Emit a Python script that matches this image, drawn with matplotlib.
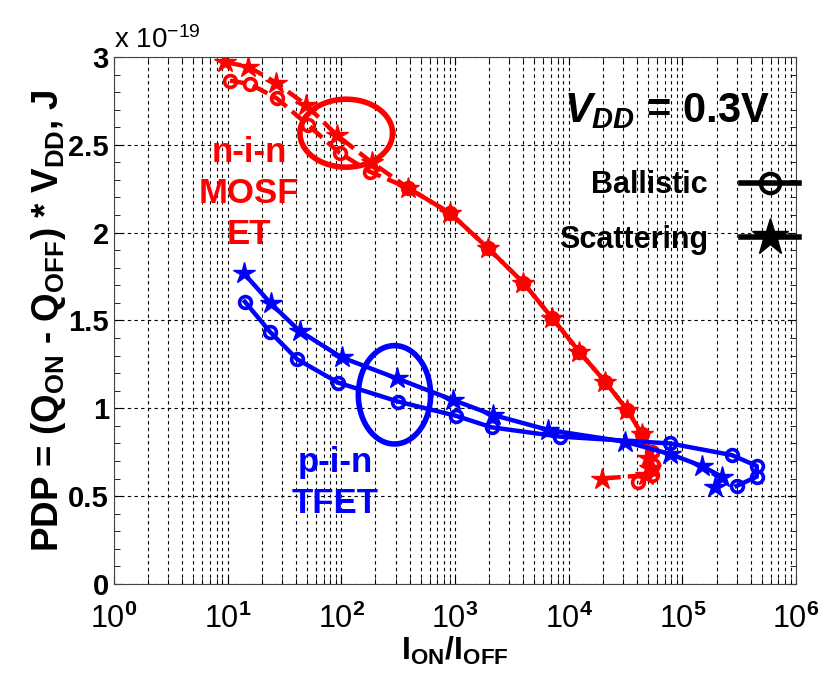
import numpy as np
import matplotlib
matplotlib.use('Agg')
import matplotlib.pyplot as plt
from matplotlib.lines import Line2D
from matplotlib.ticker import FuncFormatter, FixedLocator, LogLocator, MultipleLocator

plt.rcParams['font.family'] = ['Liberation Sans', 'DejaVu Sans']
plt.rcParams['mathtext.fontset'] = 'custom'
plt.rcParams['mathtext.rm'] = 'Liberation Sans:bold'
plt.rcParams['mathtext.it'] = 'Liberation Sans:bold:italic'
plt.rcParams['mathtext.bf'] = 'Liberation Sans:bold'

# n-i-n MOSFET, PDP in units of 1e-19 J
mos_ball_x = [10.5, 15.7, 27, 51, 97, 178, 388, 910, 1960, 3990, 7200, 12400, 20900, 32800, 43900, 53700, 55500, 54500, 41000]
mos_ball_y = [2.865, 2.846, 2.765, 2.613, 2.453, 2.347, 2.254, 2.11, 1.911, 1.715, 1.512, 1.322, 1.152, 0.99, 0.854, 0.753, 0.68, 0.62, 0.58]
mos_scat_x = [9.5, 15.2, 26.6, 49, 91, 185, 388, 910, 1960, 3990, 7200, 12400, 20900, 32800, 43900, 50000, 52000, 48000, 19500]
mos_scat_y = [2.97, 2.945, 2.854, 2.727, 2.556, 2.40, 2.254, 2.11, 1.911, 1.715, 1.512, 1.322, 1.152, 0.99, 0.854, 0.72, 0.66, 0.62, 0.60]

# p-i-n TFET
tfet_ball_x = [14.2, 23.6, 41, 94, 318, 1015, 2100, 8400, 77800, 272000, 451000, 451000, 300000]
tfet_ball_y = [1.607, 1.436, 1.279, 1.146, 1.038, 0.958, 0.892, 0.839, 0.80, 0.734, 0.672, 0.611, 0.558]
tfet_scat_x = [13.9, 23.9, 43, 100.7, 307, 966, 2170, 6620, 31300, 77800, 148000, 222000, 194000]
tfet_scat_y = [1.769, 1.598, 1.44, 1.29, 1.171, 1.047, 0.962, 0.877, 0.81, 0.74, 0.672, 0.611, 0.554]

x_ticks = [1e0, 1e1, 1e2, 1e3, 1e4, 1e5, 1e6]

# highlight ellipses: (log10 centre x, centre y, log-width, height)
red_ring = (2.044, 2.566, 0.815, 0.387)
blue_ring = (2.468, 1.077, 0.636, 0.56)

fig = plt.figure(figsize=(8.19, 6.81), dpi=100)
ax = fig.add_axes([0.139, 0.1424, 0.833, 0.774])

ax.plot(mos_ball_x, mos_ball_y, '--', color='red', lw=3.2, marker='o', ms=8.5, mfc='none', mew=2.6)
ax.plot(mos_scat_x, mos_scat_y, '--', color='red', lw=3.2, marker='*', ms=16)
ax.plot(tfet_ball_x, tfet_ball_y, '-', color='blue', lw=3.2, marker='o', ms=8.5, mfc='none', mew=2.6)
ax.plot(tfet_scat_x, tfet_scat_y, '-', color='blue', lw=3.2, marker='*', ms=16)

t = np.linspace(0, 2 * np.pi, 200)
for (cx, cy, w, h), c in [(red_ring, 'red'), (blue_ring, 'blue')]:
    ax.plot(10 ** (cx + w / 2 * np.cos(t)), cy + h / 2 * np.sin(t), color=c, lw=4)

ax.set_xscale('log')
ax.set_xlim(1, 1e6)
ax.set_ylim(0, 3)
ax.xaxis.set_major_locator(FixedLocator(x_ticks))
ax.xaxis.set_minor_locator(LogLocator(base=10, subs=np.arange(2, 10), numticks=20))
ax.yaxis.set_major_locator(MultipleLocator(0.5))
ax.yaxis.set_minor_locator(MultipleLocator(0.1))
ax.grid(True, which='major', ls='--', color='black', lw=0.8, dashes=(3, 3))
ax.grid(True, which='minor', axis='x', ls='--', color='black', lw=0.8, dashes=(3, 3))
ax.tick_params(which='both', direction='in', right=True, top=True)
ax.tick_params(which='major', length=6, labelsize=21)
ax.tick_params(which='minor', length=4)
for s in ax.spines.values():
    s.set_color('#444444')

ax.xaxis.set_major_formatter(FuncFormatter(lambda v, p: r'10$^{%d}$' % round(np.log10(v))))
ax.yaxis.set_major_formatter(FuncFormatter(lambda v, p: ('%g' % v)))
for lab in ax.get_yticklabels():
    lab.set_fontweight('bold')
for lab in ax.get_xticklabels():
    lab.set_fontsize(22)
ax.tick_params(axis='x', pad=14)

ax.set_xlabel(r'I$_{\rm ON}$/I$_{\rm OFF}$', fontsize=23, fontweight='bold', labelpad=0)
ax.set_ylabel(r'PDP = (Q$_{\rm ON}$ - Q$_{\rm OFF}$) * V$_{\rm DD}$, J', fontsize=26.5,
              fontweight='bold', labelpad=0)
ax.text(0, 1.005, r'x 10$^{\mathregular{-19}}$', transform=ax.transAxes, fontsize=20,
        ha='left', va='bottom')

ax.text(0.198, 0.85, 'n-i-n\nMOSF\nET', transform=ax.transAxes, color='red', fontsize=25,
        fontweight='bold', ha='center', va='top', linespacing=1.3)
ax.text(0.325, 0.262, 'p-i-n\nTFET', transform=ax.transAxes, color='blue', fontsize=25,
        fontweight='bold', ha='center', va='top', linespacing=1.3)
ax.text(0.962, 0.898, r'$V_{DD}$ = 0.3V', transform=ax.transAxes, fontsize=30,
        fontweight='bold', ha='right', va='center')

handles = [Line2D([], [], color='black', lw=4, marker='o', ms=14, mfc='none', mew=3),
           Line2D([], [], color='black', lw=4, marker='*', ms=28)]
leg = ax.legend(handles, ['Ballistic', 'Scattering'], loc='upper right', bbox_to_anchor=(1.005, 0.785),
                frameon=False, markerfirst=False, prop={'size': 22, 'weight': 'bold'},
                handlelength=1.9, handletextpad=1.1, labelspacing=0.8, borderaxespad=0, borderpad=0)

fig.savefig('out.png', dpi=100)
